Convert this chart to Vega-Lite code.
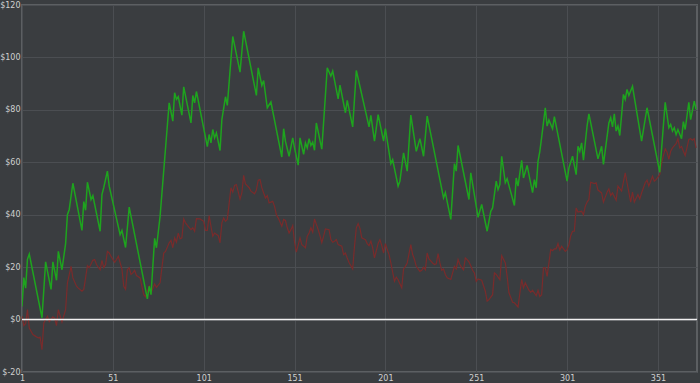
{
  "$schema": "https://vega.github.io/schema/vega-lite/v6.json",
  "width": 675,
  "height": 367,
  "autosize": {"type": "none"},
  "padding": {"left": 22, "top": 5, "right": 3, "bottom": 11},
  "background": "#3a3d40",
  "config": {
    "view": {"stroke": "#5c5f62", "strokeWidth": 2, "fill": "#3a3d40"},
    "axis": {"labelFont": "DejaVu Sans", "labelFontSize": 8, "labelColor": "#d0d0d0", "domain": false, "ticks": false, "gridColor": "#4b4e52", "gridWidth": 1, "title": null}
  },
  "datasets": {
    "green": [
      {"x":1,"v":5},{"x":2,"v":16},{"x":3,"v":12},{"x":4,"v":23},{"x":5,"v":25},{"x":12,"v":0.7},{"x":14,"v":22},{"x":17,"v":11.5},{"x":18,"v":22},{"x":20,"v":15},{"x":21,"v":26},{"x":23,"v":19},{"x":25,"v":29},{"x":26,"v":40},{"x":27,"v":42},{"x":29,"v":52},{"x":34,"v":34},{"x":35,"v":45},{"x":36,"v":41.7},{"x":37,"v":52.4},{"x":39,"v":45.8},{"x":40,"v":47.3},{"x":44,"v":33.7},{"x":45,"v":47.7},{"x":46,"v":50.4},{"x":48,"v":56.6},{"x":49,"v":50.9},{"x":55,"v":32.4},{"x":56,"v":34},{"x":58,"v":27.5},{"x":60,"v":42.9},{"x":70,"v":7.9},{"x":71,"v":12.7},{"x":72,"v":9.5},{"x":74,"v":31},{"x":75,"v":27.4},{"x":77,"v":39.4},{"x":82,"v":82.7},{"x":84,"v":75.7},{"x":85,"v":86.5},{"x":86,"v":84},{"x":87,"v":85},{"x":89,"v":78},{"x":90,"v":88.8},{"x":94,"v":75},{"x":95,"v":85.5},{"x":96,"v":82.7},{"x":97,"v":87},{"x":103,"v":66},{"x":104,"v":70.6},{"x":105,"v":67.4},{"x":106,"v":72.5},{"x":107,"v":69.3},{"x":108,"v":71.2},{"x":110,"v":64.5},{"x":111,"v":76.3},{"x":113,"v":85},{"x":114,"v":81.7},{"x":117,"v":108},{"x":121,"v":94.4},{"x":123,"v":110},{"x":130,"v":85.5},{"x":131,"v":96},{"x":133,"v":89.3},{"x":134,"v":91.2},{"x":136,"v":80.8},{"x":138,"v":83},{"x":144,"v":62},{"x":145,"v":72.8},{"x":146,"v":68},{"x":148,"v":62.3},{"x":150,"v":69.3},{"x":151,"v":65.5},{"x":153,"v":58.9},{"x":154,"v":69.3},{"x":156,"v":63},{"x":157,"v":67.4},{"x":158,"v":65.5},{"x":159,"v":69},{"x":160,"v":66.4},{"x":161,"v":67.7},{"x":162,"v":64.6},{"x":163,"v":75},{"x":166,"v":65},{"x":169,"v":96},{"x":171,"v":92.9},{"x":172,"v":94.8},{"x":175,"v":84.2},{"x":176,"v":89.4},{"x":179,"v":78.9},{"x":180,"v":83.6},{"x":183,"v":73.5},{"x":185,"v":95},{"x":192,"v":73.5},{"x":193,"v":77.9},{"x":195,"v":68.1},{"x":197,"v":78.2},{"x":200,"v":68.1},{"x":201,"v":72.8},{"x":204,"v":59.5},{"x":205,"v":61},{"x":208,"v":50.9},{"x":209,"v":52.8},{"x":211,"v":63.6},{"x":213,"v":56.6},{"x":215,"v":78},{"x":218,"v":64.2},{"x":220,"v":69},{"x":222,"v":62.3},{"x":224,"v":77.6},{"x":233,"v":46.4},{"x":234,"v":48.4},{"x":237,"v":38.2},{"x":239,"v":59.5},{"x":240,"v":56.6},{"x":241,"v":66.4},{"x":247,"v":45.8},{"x":248,"v":56},{"x":252,"v":39},{"x":254,"v":43.9},{"x":257,"v":33.7},{"x":259,"v":41.3},{"x":260,"v":42.6},{"x":262,"v":52.8},{"x":263,"v":49.6},{"x":264,"v":51.5},{"x":265,"v":62.3},{"x":267,"v":52.2},{"x":268,"v":53.7},{"x":272,"v":43.5},{"x":273,"v":54},{"x":274,"v":50.9},{"x":276,"v":60.7},{"x":277,"v":54},{"x":279,"v":58.8},{"x":282,"v":48.4},{"x":283,"v":53.4},{"x":284,"v":50.3},{"x":285,"v":60.4},{"x":286,"v":64.2},{"x":287,"v":69.5},{"x":289,"v":80.8},{"x":290,"v":73.8},{"x":291,"v":76.1},{"x":293,"v":72.8},{"x":294,"v":77.4},{"x":301,"v":52.8},{"x":302,"v":57.9},{"x":304,"v":62.3},{"x":306,"v":55.3},{"x":307,"v":66.1},{"x":308,"v":64.2},{"x":309,"v":67.4},{"x":310,"v":60.8},{"x":312,"v":73.8},{"x":313,"v":78.5},{"x":318,"v":61.3},{"x":320,"v":66.1},{"x":321,"v":59.2},{"x":324,"v":75},{"x":325,"v":77},{"x":326,"v":73.5},{"x":327,"v":78.5},{"x":328,"v":71.9},{"x":329,"v":73.8},{"x":330,"v":70.2},{"x":332,"v":85.9},{"x":333,"v":84},{"x":334,"v":87.8},{"x":335,"v":85.5},{"x":337,"v":89},{"x":342,"v":68.1},{"x":345,"v":80.8},{"x":352,"v":56.2},{"x":355,"v":82.9},{"x":357,"v":73.2},{"x":358,"v":74.4},{"x":359,"v":71.9},{"x":360,"v":73.2},{"x":361,"v":70.6},{"x":362,"v":72.5},{"x":364,"v":69},{"x":365,"v":75.5},{"x":366,"v":72.5},{"x":368,"v":82.9},{"x":369,"v":76.3},{"x":371,"v":83.3},{"x":372,"v":80.2}
    ],
    "red": [
      {"x":1,"v":1.3},{"x":2,"v":-2.3},{"x":3,"v":-1.5},{"x":4,"v":3.8},{"x":5,"v":-3.2},{"x":7,"v":-5.7},{"x":9,"v":-6.6},{"x":10,"v":-7},{"x":11,"v":-6.7},{"x":12,"v":-11.5},{"x":13,"v":-1.3},{"x":15,"v":1.3},{"x":16,"v":-0.8},{"x":18,"v":1},{"x":19,"v":0.5},{"x":20,"v":-2.3},{"x":21,"v":3.8},{"x":23,"v":-1},{"x":25,"v":3.8},{"x":26,"v":14},{"x":28,"v":20.3},{"x":29,"v":15.9},{"x":31,"v":12.7},{"x":32,"v":12},{"x":34,"v":10.8},{"x":35,"v":11.5},{"x":36,"v":15.9},{"x":37,"v":20.6},{"x":38,"v":19.8},{"x":40,"v":22.6},{"x":41,"v":22.9},{"x":42,"v":21},{"x":44,"v":19},{"x":45,"v":22.6},{"x":46,"v":19.8},{"x":47,"v":21},{"x":48,"v":26},{"x":49,"v":25.4},{"x":50,"v":24.1},{"x":52,"v":21.8},{"x":53,"v":22.9},{"x":54,"v":24.1},{"x":56,"v":19.3},{"x":57,"v":12.7},{"x":58,"v":11.5},{"x":59,"v":19},{"x":60,"v":19.8},{"x":61,"v":17.2},{"x":62,"v":17.8},{"x":63,"v":18.8},{"x":64,"v":16.8},{"x":66,"v":15.9},{"x":67,"v":12.7},{"x":68,"v":9.5},{"x":69,"v":8.7},{"x":71,"v":12.7},{"x":72,"v":10.2},{"x":74,"v":13.6},{"x":75,"v":12.3},{"x":77,"v":14},{"x":78,"v":19.7},{"x":79,"v":25.4},{"x":80,"v":26},{"x":82,"v":29.3},{"x":83,"v":30.2},{"x":84,"v":27.4},{"x":85,"v":31.2},{"x":86,"v":29.5},{"x":87,"v":33},{"x":88,"v":30.8},{"x":89,"v":31.2},{"x":90,"v":38.4},{"x":91,"v":36.9},{"x":92,"v":35.9},{"x":94,"v":34.3},{"x":95,"v":35},{"x":96,"v":33.7},{"x":97,"v":38.5},{"x":99,"v":38.4},{"x":101,"v":37.5},{"x":102,"v":34},{"x":103,"v":34},{"x":104,"v":39.7},{"x":105,"v":35.6},{"x":106,"v":31.8},{"x":107,"v":33},{"x":109,"v":32},{"x":110,"v":29.3},{"x":111,"v":36.9},{"x":112,"v":38.8},{"x":113,"v":37.5},{"x":114,"v":38.2},{"x":116,"v":50.3},{"x":117,"v":48.6},{"x":118,"v":51.2},{"x":119,"v":51.5},{"x":121,"v":46},{"x":122,"v":48.3},{"x":123,"v":55},{"x":124,"v":51.7},{"x":126,"v":50.3},{"x":127,"v":49},{"x":129,"v":48},{"x":130,"v":49.4},{"x":131,"v":53.2},{"x":132,"v":53.4},{"x":133,"v":50.3},{"x":134,"v":48.3},{"x":135,"v":46.4},{"x":136,"v":47.3},{"x":137,"v":44.5},{"x":139,"v":45.1},{"x":140,"v":43.2},{"x":141,"v":40},{"x":142,"v":38.8},{"x":144,"v":35.6},{"x":145,"v":38.2},{"x":146,"v":37.8},{"x":147,"v":35},{"x":148,"v":33},{"x":149,"v":34.3},{"x":150,"v":35.9},{"x":151,"v":29.5},{"x":152,"v":25.7},{"x":154,"v":31.2},{"x":155,"v":28.6},{"x":156,"v":28},{"x":157,"v":27.4},{"x":158,"v":31.8},{"x":159,"v":33},{"x":160,"v":35},{"x":161,"v":33.3},{"x":162,"v":38.4},{"x":164,"v":34.3},{"x":165,"v":32},{"x":166,"v":29.3},{"x":167,"v":31.8},{"x":168,"v":34.6},{"x":170,"v":34.3},{"x":171,"v":30.5},{"x":172,"v":29.5},{"x":173,"v":29.9},{"x":174,"v":30.5},{"x":175,"v":28.6},{"x":177,"v":28},{"x":178,"v":24.8},{"x":179,"v":25.4},{"x":180,"v":23.5},{"x":181,"v":21.8},{"x":183,"v":19.3},{"x":184,"v":28},{"x":185,"v":35},{"x":186,"v":36.6},{"x":187,"v":34.8},{"x":188,"v":31.2},{"x":190,"v":30.5},{"x":191,"v":29},{"x":192,"v":28.2},{"x":193,"v":29.9},{"x":194,"v":27.4},{"x":195,"v":23.5},{"x":197,"v":29},{"x":198,"v":30.5},{"x":199,"v":28.2},{"x":200,"v":25.4},{"x":201,"v":29},{"x":202,"v":26.7},{"x":203,"v":24.8},{"x":204,"v":21.6},{"x":206,"v":14.6},{"x":207,"v":16.2},{"x":208,"v":15.2},{"x":210,"v":12.1},{"x":211,"v":19.3},{"x":212,"v":20.3},{"x":213,"v":21.6},{"x":215,"v":28.6},{"x":216,"v":24.8},{"x":217,"v":22.9},{"x":218,"v":20.3},{"x":220,"v":18.4},{"x":221,"v":18.8},{"x":222,"v":20},{"x":223,"v":19},{"x":224,"v":25.4},{"x":225,"v":23.1},{"x":227,"v":21.6},{"x":228,"v":21},{"x":229,"v":21.3},{"x":230,"v":25.2},{"x":231,"v":21.6},{"x":232,"v":18.8},{"x":233,"v":19.3},{"x":234,"v":17.2},{"x":235,"v":15.9},{"x":237,"v":15.3},{"x":238,"v":17.8},{"x":239,"v":20.3},{"x":240,"v":19.3},{"x":241,"v":22.9},{"x":242,"v":21},{"x":243,"v":19.8},{"x":244,"v":19},{"x":245,"v":23.5},{"x":246,"v":22.9},{"x":247,"v":22},{"x":248,"v":20.5},{"x":249,"v":18.8},{"x":250,"v":17.8},{"x":251,"v":14.6},{"x":252,"v":15.5},{"x":254,"v":15},{"x":256,"v":10.8},{"x":257,"v":7},{"x":258,"v":7.6},{"x":260,"v":9.5},{"x":261,"v":17.8},{"x":262,"v":17.2},{"x":264,"v":15.2},{"x":265,"v":24.4},{"x":267,"v":21.6},{"x":268,"v":16.5},{"x":269,"v":10.2},{"x":271,"v":6.6},{"x":272,"v":6.4},{"x":274,"v":4.8},{"x":276,"v":15.3},{"x":277,"v":12.1},{"x":278,"v":14},{"x":280,"v":11.2},{"x":281,"v":10.4},{"x":282,"v":11.2},{"x":284,"v":9.1},{"x":285,"v":11.2},{"x":286,"v":8.8},{"x":287,"v":9.5},{"x":288,"v":19.7},{"x":289,"v":19.7},{"x":290,"v":16.5},{"x":292,"v":26.7},{"x":293,"v":26.3},{"x":294,"v":27},{"x":295,"v":27},{"x":296,"v":29},{"x":297,"v":26.5},{"x":298,"v":28},{"x":300,"v":26},{"x":301,"v":26.7},{"x":302,"v":28.6},{"x":303,"v":32},{"x":304,"v":33.7},{"x":305,"v":33.7},{"x":306,"v":42.6},{"x":307,"v":41},{"x":309,"v":41.3},{"x":310,"v":40},{"x":311,"v":43.2},{"x":312,"v":44.8},{"x":313,"v":45.8},{"x":314,"v":52.4},{"x":316,"v":51.9},{"x":317,"v":52.2},{"x":318,"v":49.4},{"x":320,"v":48.3},{"x":321,"v":44.8},{"x":323,"v":48.6},{"x":324,"v":49.9},{"x":325,"v":47.3},{"x":326,"v":48.3},{"x":328,"v":45.5},{"x":329,"v":50.9},{"x":331,"v":49},{"x":333,"v":56},{"x":334,"v":52.2},{"x":336,"v":44.8},{"x":337,"v":48.6},{"x":338,"v":44.8},{"x":340,"v":47.7},{"x":341,"v":46},{"x":342,"v":48.3},{"x":344,"v":52.2},{"x":345,"v":53.2},{"x":346,"v":50.9},{"x":348,"v":54.7},{"x":349,"v":52.8},{"x":350,"v":53.4},{"x":352,"v":55.3},{"x":353,"v":59.8},{"x":355,"v":65.1},{"x":356,"v":63.9},{"x":357,"v":61.1},{"x":358,"v":64.2},{"x":359,"v":65.5},{"x":361,"v":67.1},{"x":362,"v":69},{"x":363,"v":65.5},{"x":364,"v":66},{"x":365,"v":64.2},{"x":366,"v":62.6},{"x":368,"v":68.7},{"x":369,"v":69},{"x":370,"v":68.4},{"x":371,"v":69},{"x":372,"v":65.5}
    ]
  },
  "layer": [
    {
      "data": {"name": "red"},
      "mark": {"type": "line", "color": "#7a2b2b", "strokeWidth": 1.2, "clip": true},
      "encoding": {
        "x": {"field": "x", "type": "quantitative", "scale": {"domain": [1, 372.5], "nice": false, "zero": false},
          "axis": {"values": [1, 51, 101, 151, 201, 251, 301, 351], "labelPadding": 2, "labelFlush": false}},
        "y": {"field": "v", "type": "quantitative", "scale": {"domain": [-20, 120], "nice": false},
          "axis": {"values": [-20, 0, 20, 40, 60, 80, 100, 120], "labelExpr": "'$' + datum.value", "labelPadding": 2}}
      }
    },
    {
      "data": {"name": "green"},
      "mark": {"type": "line", "color": "#1ea41e", "strokeWidth": 1.5, "clip": true},
      "encoding": {
        "x": {"field": "x", "type": "quantitative"},
        "y": {"field": "v", "type": "quantitative"}
      }
    },
    {
      "data": {"values": [{"zero": 0}]},
      "mark": {"type": "rule", "color": "#f0f0f0", "strokeWidth": 1.5},
      "encoding": {"y": {"field": "zero", "type": "quantitative"}}
    }
  ]
}
